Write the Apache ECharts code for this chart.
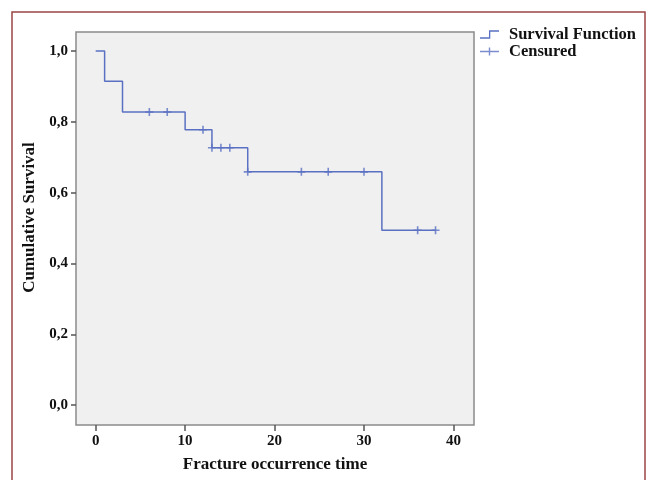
<!DOCTYPE html>
<html>
<head>
<meta charset="utf-8">
<script src="https://cdn.jsdelivr.net/npm/echarts@6/dist/echarts.min.js"></script>
<style>
  html, body { margin: 0; padding: 0; background: #fff; }
  #chart { width: 649px; height: 480px; }
</style>
</head>
<body>
<div id="chart"></div>
<script>
// step points of the survival curve
var eventTimes = [0, 1, 3, 10, 13, 17, 32, 38];
var survival = [1.0, 0.915, 0.828, 0.778, 0.727, 0.659, 0.494, 0.494];
// censored cases
var censorTimes = [6, 8, 12, 13, 14, 15, 17, 23, 26, 30, 36, 38];
var censorSurv = [0.828, 0.828, 0.778, 0.727, 0.727, 0.727, 0.659, 0.659, 0.659, 0.659, 0.494, 0.494];
var xTicks = [0, 10, 20, 30, 40];
var yTicks = [0, 0.2, 0.4, 0.6, 0.8, 1.0];

var blue = '#5a70c2';
var serif = '"Liberation Serif", "DejaVu Serif", serif';

var curve = eventTimes.map(function (t, i) { return [t, survival[i]]; });
var marks = censorTimes.map(function (t, i) { return [t, censorSurv[i]]; });

var plusPath = 'path://M3.2,0 H4.8 V3.2 H8 V4.8 H4.8 V8 H3.2 V4.8 H0 V3.2 H3.2 Z';
var stepIcon = 'path://M0,8 H9 V1 H19 V2.3 H10.3 V9.3 H0 Z';
var censIcon = 'path://M0,4.3 H8.8 V1 H10.2 V4.3 H19 V5.7 H10.2 V9 H8.8 V5.7 H0 Z';

var myChart = echarts.init(document.getElementById('chart'));
var option = {
    animation: false,
    backgroundColor: '#fff',
    textStyle: { fontFamily: serif },
    graphic: [{
        type: 'rect',
        shape: { x: 12, y: 12, width: 633, height: 520 },
        style: { fill: 'none', stroke: '#9c4646', lineWidth: 1.5 },
        silent: true
    }],
    legend: {
        orient: 'vertical',
        left: 475,
        top: 21,
        itemWidth: 19,
        itemHeight: 10,
        itemGap: 0,
        itemStyle: { borderWidth: 0 },
        textStyle: { fontFamily: serif, fontWeight: 'bold', fontSize: 16.5, lineHeight: 15, color: '#111', padding: [0, 0, 0, 5] },
        data: [
            { name: 'Survival Function', icon: stepIcon, itemStyle: { color: blue, borderWidth: 0 } },
            { name: 'Censured', icon: censIcon, itemStyle: { color: blue, borderWidth: 0 } }
        ]
    },
    grid: {
        left: 76, top: 32, right: 175, bottom: 55,
        show: true,
        backgroundColor: '#f0f0f0',
        borderColor: '#8a8a8a',
        borderWidth: 1.5
    },
    xAxis: {
        type: 'value',
        min: -2.2,
        max: 42.3,
        name: 'Fracture occurrence time',
        nameLocation: 'middle',
        nameGap: 31,
        nameTextStyle: { fontFamily: serif, fontWeight: 'bold', fontSize: 17, color: '#111' },
        axisLine: { show: false, onZero: false },
        splitLine: { show: false },
        axisTick: { show: true, length: 6, customValues: xTicks, lineStyle: { color: '#555', width: 1.5 } },
        axisLabel: { customValues: xTicks, margin: 9, fontFamily: serif, fontWeight: 'bold', fontSize: 15, color: '#111' }
    },
    yAxis: {
        type: 'value',
        min: -0.056,
        max: 1.054,
        name: 'Cumulative Survival',
        nameLocation: 'middle',
        nameGap: 38,
        nameTextStyle: { fontFamily: serif, fontWeight: 'bold', fontSize: 17, color: '#111', padding: [0, 0, 0, 22] },
        axisLine: { show: false, onZero: false },
        splitLine: { show: false },
        axisTick: { show: true, length: 5, customValues: yTicks, lineStyle: { color: '#555', width: 1.5 } },
        axisLabel: {
            customValues: yTicks, margin: 8, fontFamily: serif, fontWeight: 'bold', fontSize: 15, color: '#111',
            formatter: function (v) { return v.toFixed(1).replace('.', ','); }
        }
    },
    series: [
        {
            name: 'Survival Function',
            type: 'line',
            step: 'end',
            data: curve,
            showSymbol: false,
            lineStyle: { color: blue, width: 1.5 },
            itemStyle: { color: blue }
        },
        {
            name: 'Censured',
            type: 'scatter',
            data: marks,
            symbol: plusPath,
            symbolSize: 8,
            itemStyle: { color: blue }
        }
    ]
};
myChart.setOption(option);
</script>
</body>
</html>
